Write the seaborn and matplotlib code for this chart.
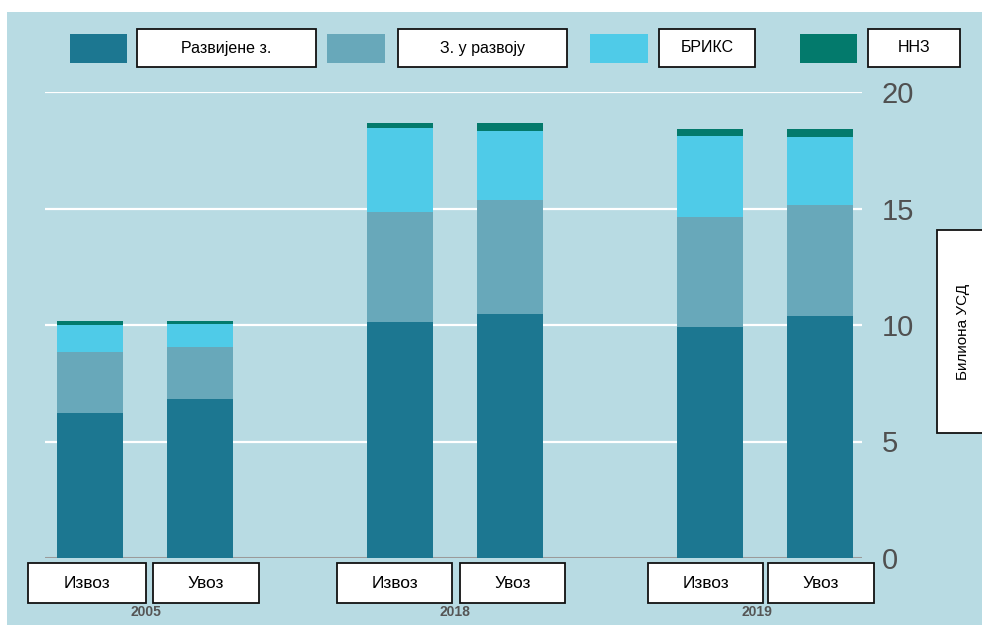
import matplotlib
matplotlib.use("Agg")
import matplotlib.pyplot as plt
from matplotlib.patches import Rectangle
import seaborn as sns
import pandas as pd
import numpy as np

# podaci (milijarde USD)
years = ['2005', '2018', '2019']
flows = ['Извоз', 'Увоз']
razvijene = [6.22, 6.82, 10.13, 10.47, 9.91, 10.39]
u_razvoju = [2.62, 2.24, 4.72, 4.89, 4.73, 4.76]
briks = [1.16, 0.98, 3.60, 2.97, 3.47, 2.92]
nnz = [0.17, 0.13, 0.22, 0.34, 0.30, 0.34]

series_names = ['Развијене з.', 'З. у развоју', 'БРИКС', 'ННЗ']
colors = ['#1c7791', '#68a8ba', '#4fcbe8', '#037a6c']
bg = '#b8dbe3'

positions = [0, 1, 2.82, 3.82, 5.64, 6.64]

df = pd.DataFrame({'pos': positions,
                   'Развијене з.': razvijene,
                   'З. у развоју': u_razvoju,
                   'БРИКС': briks,
                   'ННЗ': nnz})
cum = df[series_names].cumsum(axis=1)

W, H = 982, 631
fig = plt.figure(figsize=(W / 100, H / 100), dpi=100)
sns.set_style('white')
plt.rcParams['font.family'] = ['Liberation Sans', 'DejaVu Sans']


def px(x0, y0, x1, y1):
    # pikseli (odozgo) -> koordinate figure
    return x0 / W, 1 - y1 / H, (x1 - x0) / W, (y1 - y0) / H


# pozadina
x, y, w, h = px(7, 12, 982, 625)
fig.patches.append(Rectangle((x, y), w, h, transform=fig.transFigure,
                             facecolor=bg, edgecolor='none', zorder=-5))

ax = fig.add_axes(px(45, 92, 862, 558))
ax.patch.set_alpha(0)

for v in [5, 10, 15, 20]:
    ax.axhline(v, color='white', lw=1.6, zorder=0)
ax.axhline(0, color='#9a9a9a', lw=2.2, zorder=0)

# slaganje: prvo ukupno, pa nanize
for i in range(len(series_names) - 1, -1, -1):
    sns.barplot(x=df['pos'], y=cum[series_names[i]], native_scale=True,
                width=0.6, color=colors[i], saturation=1, linewidth=0,
                errorbar=None, ax=ax, zorder=2)

ax.set_xlim(-0.41, 7.02)
ax.set_ylim(0, 20)
ax.set_xticks([])
ax.set_yticks([0, 5, 10, 15, 20])
ax.yaxis.tick_right()
ax.tick_params(axis='y', length=0, pad=14, labelsize=21, labelcolor='#505050')
ax.set_xlabel('')
ax.set_ylabel('')
for s in ax.spines.values():
    s.set_visible(False)


def box(x0, y0, x1, y1, text, size=11.5, rot=0):
    x, y, w, h = px(x0, y0, x1, y1)
    fig.patches.append(Rectangle((x, y), w, h, transform=fig.transFigure,
                                 facecolor='white', edgecolor='#111111',
                                 lw=1.3, zorder=3))
    fig.text(x + w / 2, y + h / 2, text, ha='center', va='center',
             fontsize=size, rotation=rot, color='black', zorder=4)


def square(x0, y0, x1, y1, c):
    x, y, w, h = px(x0, y0, x1, y1)
    fig.patches.append(Rectangle((x, y), w, h, transform=fig.transFigure,
                                 facecolor=c, edgecolor='none', zorder=3))


# legenda
leg = [(70, 127, 137, 316), (327, 385, 398, 567),
       (590, 648, 659, 755), (800, 857, 868, 960)]
for (s0, s1, b0, b1), name, c in zip(leg, series_names, colors):
    square(s0, 34, s1, 63, c)
    box(b0, 29, b1, 67, name, size=11.5)

# oznake ispod stubaca
lbl_boxes = [(28, 146), (153, 259), (337, 452), (460, 565), (648, 763), (768, 874)]
for i, (b0, b1) in enumerate(lbl_boxes):
    box(b0, 563, b1, 603, flows[i % 2], size=12.5)

year_x = [146, 455, 757]
for yr, xc in zip(years, year_x):
    fig.text(xc / W, 1 - 612 / H, yr, ha='center', va='center',
             fontsize=10, fontweight='bold', color='#555555')

# jedinica
box(937, 230, 990, 433, 'Билиона УСД', size=11, rot=90)

fig.savefig('out.png', dpi=100, facecolor='white')
